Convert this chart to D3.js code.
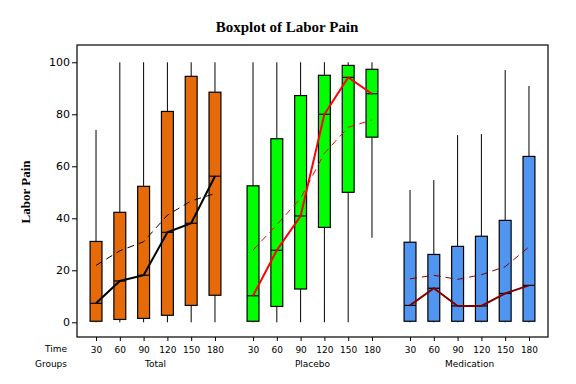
<!DOCTYPE html>
<html>
<head>
<meta charset="utf-8">
<script src="https://cdn.jsdelivr.net/npm/d3@7"></script>
<style>
  body { margin: 0; background: #fff; }
  svg { display: block; }
</style>
</head>
<body>
<div id="chart"></div>
<script>
const groups = ["Total", "Placebo", "Medication"];
const times = [30, 60, 90, 120, 150, 180];

// one row per group, one value per time
const lows = [
    [0, 0, 0, 0, 0, 0],
    [0, 0, 0, 0, 0, 32.5],
    [0, 0, 0, 0, 0, 0]
];
const q1s = [
    [0.4, 1.1, 1.5, 2.7, 6.5, 10.4],
    [0.4, 6.1, 12.8, 36.5, 50, 71.2],
    [0.4, 0.4, 0.4, 0.4, 0.4, 0.4]
];
const medians = [
    [7.3, 15.9, 18.1, 34.6, 38.1, 56.2],
    [10.2, 27.7, 40.9, 80, 94.2, 87.9],
    [6.5, 13.1, 6.3, 6.3, 11.1, 14.2]
];
const q3s = [
    [31.1, 42.3, 52.3, 81.1, 94.6, 88.5],
    [52.5, 70.6, 87.2, 95, 98.8, 97.3],
    [30.8, 26.1, 29.2, 33.1, 39.2, 63.8]
];
const highs = [
    [74, 100, 100, 100, 100, 100],
    [100, 100, 100, 100, 100, 100],
    [50.9, 54.7, 72, 72.4, 97, 90.9]
];
const means = [
    [21.9, 27.5, 31, 41.2, 46.7, 49.5],
    [27.8, 37.5, 47.7, 65, 75, 77.8],
    [16.7, 18.1, 16.5, 18.3, 21.4, 29]
];
const yTicks = [0, 20, 40, 60, 80, 100];

const boxColors = ["#E66A08", "#00FF00", "#5095F0"];
const lineColors = ["#000000", "#FF0000", "#800000"];

const width = 576, height = 384;
const margin = { top: 45, right: 28, bottom: 47, left: 77 };

const svg = d3.select("#chart").append("svg")
    .attr("width", width)
    .attr("height", height);

const x0 = d3.scaleBand()
    .domain(groups)
    .range([margin.left, width - margin.right])
    .padding(0);

const x1 = d3.scalePoint()
    .domain(times)
    .range([0, x0.bandwidth()])
    .padding(0.8);

const y = d3.scaleLinear()
    .domain([-5.65, 106.65])
    .range([height - margin.bottom, margin.top]);

const boxW = x1.step() * 0.5;

// frame
svg.append("rect")
    .attr("x", margin.left)
    .attr("y", margin.top)
    .attr("width", width - margin.left - margin.right)
    .attr("height", height - margin.top - margin.bottom)
    .attr("fill", "none")
    .attr("stroke", "#000")
    .attr("stroke-width", 1.2);

// y axis
const yAxis = svg.append("g")
    .attr("transform", `translate(${margin.left},0)`)
    .call(d3.axisLeft(y).tickValues(yTicks).tickSize(5).tickPadding(2));
yAxis.select(".domain").remove();
yAxis.selectAll("text")
    .style("font-family", "DejaVu Sans, sans-serif")
    .style("font-size", "11px")
    .attr("fill", "#000");

// x axis: one per group
groups.forEach((g, gi) => {
    const ax = svg.append("g")
        .attr("transform", `translate(${x0(g)},${height - margin.bottom})`)
        .call(d3.axisBottom(x1).tickSize(4).tickPadding(6));
    ax.select(".domain").remove();
    ax.selectAll("text")
        .style("font-family", "DejaVu Sans, sans-serif")
        .style("font-size", "9px")
        .attr("fill", "#000");

    svg.append("text")
        .attr("x", x0(g) + x0.bandwidth() / 2)
        .attr("y", 367)
        .attr("text-anchor", "middle")
        .style("font-family", "DejaVu Sans, sans-serif")
        .style("font-size", "9px")
        .text(g);
});

svg.append("text")
    .attr("x", 67).attr("y", 352)
    .attr("text-anchor", "end")
    .style("font-family", "DejaVu Sans, sans-serif")
    .style("font-size", "9px")
    .text("Time");
svg.append("text")
    .attr("x", 67).attr("y", 367)
    .attr("text-anchor", "end")
    .style("font-family", "DejaVu Sans, sans-serif")
    .style("font-size", "9px")
    .text("Groups");

// boxes
groups.forEach((g, gi) => {
    const gx = t => x0(g) + x1(t);
    const grp = svg.append("g");

    const rows = times.map((t, i) => ({
        t, lo: lows[gi][i], q1: q1s[gi][i], med: medians[gi][i],
        q3: q3s[gi][i], hi: highs[gi][i], mean: means[gi][i]
    }));

    // whiskers
    grp.selectAll(".wtop").data(rows).enter().append("line")
        .attr("x1", d => gx(d.t)).attr("x2", d => gx(d.t))
        .attr("y1", d => y(d.q3)).attr("y2", d => y(d.hi))
        .attr("stroke", "#000").attr("stroke-width", 1);
    grp.selectAll(".wbot").data(rows).enter().append("line")
        .attr("x1", d => gx(d.t)).attr("x2", d => gx(d.t))
        .attr("y1", d => y(d.q1)).attr("y2", d => y(d.lo))
        .attr("stroke", "#000").attr("stroke-width", 1);

    // boxes
    grp.selectAll("rect").data(rows).enter().append("rect")
        .attr("x", d => gx(d.t) - boxW / 2)
        .attr("width", boxW)
        .attr("y", d => y(d.q3))
        .attr("height", d => y(d.q1) - y(d.q3))
        .attr("fill", boxColors[gi])
        .attr("stroke", "#000")
        .attr("stroke-width", 1.2);

    // median ticks
    grp.selectAll(".med").data(rows).enter().append("line")
        .attr("x1", d => gx(d.t) - boxW / 2).attr("x2", d => gx(d.t) + boxW / 2)
        .attr("y1", d => y(d.med)).attr("y2", d => y(d.med))
        .attr("stroke", "#000").attr("stroke-width", 1.2);

    // median connect line
    grp.append("path")
        .datum(rows)
        .attr("d", d3.line().x(d => gx(d.t)).y(d => y(d.med)))
        .attr("fill", "none")
        .attr("stroke", lineColors[gi])
        .attr("stroke-width", 2);

    // mean connect line
    grp.append("path")
        .datum(rows)
        .attr("d", d3.line().x(d => gx(d.t)).y(d => y(d.mean)))
        .attr("fill", "none")
        .attr("stroke", lineColors[gi])
        .attr("stroke-width", 1)
        .attr("stroke-dasharray", "7,5");
});

// title
svg.append("text")
    .attr("x", 287).attr("y", 32)
    .attr("text-anchor", "middle")
    .style("font-family", "Liberation Serif, serif")
    .style("font-weight", "bold")
    .style("font-size", "15px")
    .text("Boxplot of Labor Pain");

svg.append("text")
    .attr("transform", "translate(30,192) rotate(-90)")
    .attr("text-anchor", "middle")
    .style("font-family", "Liberation Serif, serif")
    .style("font-weight", "bold")
    .style("font-size", "13px")
    .text("Labor Pain");
</script>
</body>
</html>
